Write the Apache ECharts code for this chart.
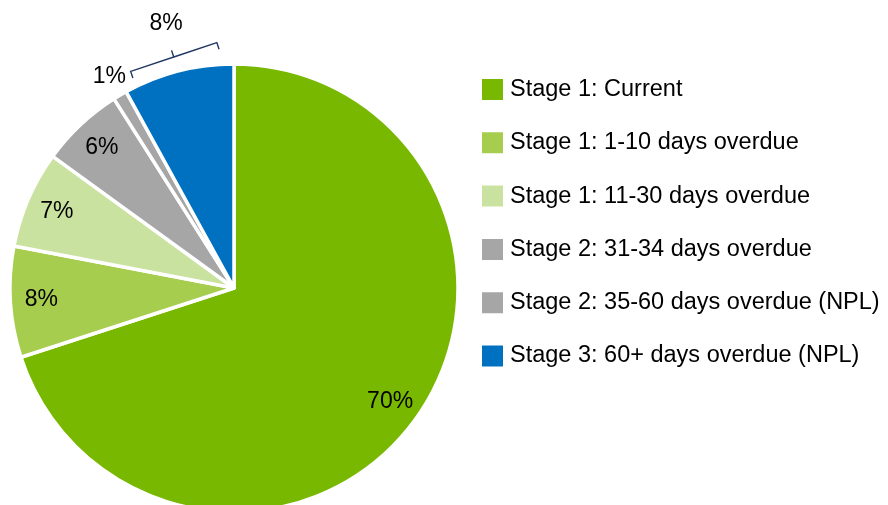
<!DOCTYPE html>
<html><head><meta charset="utf-8">
<script src="https://cdn.jsdelivr.net/npm/echarts@6/dist/echarts.min.js"></script>
<style>html,body{margin:0;padding:0;background:#fff}#c{width:888px;height:505px}</style>
</head><body><div id="c"></div>
<script>
const categories = ["Stage 1: Current","Stage 1: 1-10 days overdue","Stage 1: 11-30 days overdue","Stage 2: 31-34 days overdue","Stage 2: 35-60 days overdue (NPL)","Stage 3: 60+ days overdue (NPL)"];
const values = [70, 8, 7, 6, 1, 8];
const colors = ["#78B800","#A6CD4E","#C9E2A0","#A6A6A6","#A6A6A6","#0070C0"];

const CX = 234, CY = 288, R = 224;
const font = "Liberation Sans, Arial, sans-serif";
const data = categories.map((n,i)=>({name:n, value:values[i], itemStyle:{color:colors[i]}}));

function labelRing(r0, r1, showIdx){
  return {
    type:'pie', center:[CX,CY], radius:[r0,r1], startAngle:90, clockwise:true,
    silent:true, legendHoverLink:false, z:5,
    itemStyle:{color:'rgba(0,0,0,0)', borderWidth:0},
    emphasis:{disabled:true},
    label:{show:true, position:'inside', formatter:p=> showIdx.includes(p.dataIndex)? p.value+'%':'',
      color:'#000', fontSize:23, fontFamily:font},
    labelLine:{show:false},
    data: categories.map((n,i)=>({name:n, value:values[i]}))
  };
}

// bracket for last slice
const total = values.reduce((a,b)=>a+b,0);
const startLast = 360*(total-values[5])/total;
function pt(a, r){const t=a*Math.PI/180; return [CX + r*Math.sin(t), CY - r*Math.cos(t)];}
const aL = startLast+3.3, aR = 356, Rb = 240;
const L = pt(aL, Rb), Rr = pt(aR, Rb+6);
const dx = Rr[0]-L[0], dy = Rr[1]-L[1], len = Math.hypot(dx,dy);
const nx = dy/len, ny = -dx/len;
const tick = 7;
const M = [(L[0]+Rr[0])/2, (L[1]+Rr[1])/2];
const bracket = [
  [L[0]-nx*tick, L[1]-ny*tick], L, M, [M[0]+nx*tick, M[1]+ny*tick], M, Rr, [Rr[0]-nx*tick, Rr[1]-ny*tick]
];

const chart = echarts.init(document.getElementById('c'));
chart.setOption({
  animation:false,
  legend:{
    orient:'vertical', left:475, top:72, itemWidth:23, itemHeight:23, itemGap:28.3,
    icon:'rect', data:categories,
    textStyle:{fontSize:23.5, color:'#000', fontFamily:font, padding:[0,0,0,1]}
  },
  series:[
    {type:'pie', center:[CX,CY], radius:R, startAngle:90, clockwise:true, silent:true,
     itemStyle:{borderColor:'#fff', borderWidth:3.5}, label:{show:false}, labelLine:{show:false},
     emphasis:{disabled:true}, data:data},
    labelRing(156, 224, [0,1,2,3]),
    labelRing(232, 252, [4]),
    labelRing(260, 280, [5])
  ],
  graphic:[{type:'polyline', shape:{points:bracket}, style:{stroke:'#1F3864', lineWidth:1.4, fill:null}, z:10}]
});
</script></body></html>
